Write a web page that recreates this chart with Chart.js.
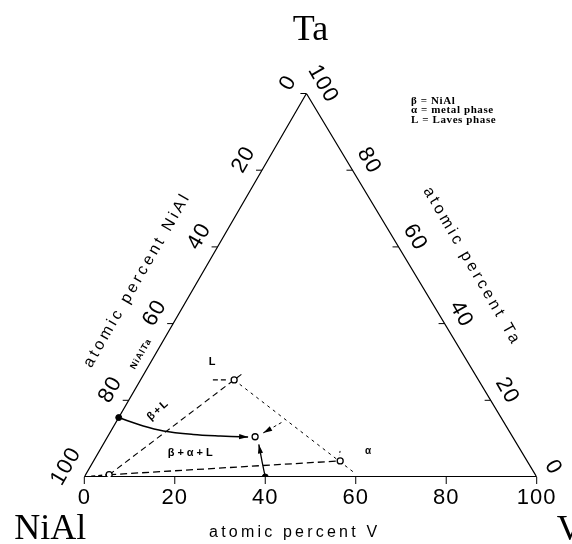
<!DOCTYPE html>
<html>
<head>
<meta charset="utf-8">
<script src="https://cdn.jsdelivr.net/npm/chart.js@4.4.1/dist/chart.umd.min.js"></script>
<style>
  html, body { margin: 0; padding: 0; background: #fff; }
  #wrap { width: 572px; height: 544px; }
</style>
</head>
<body>
<div id="wrap"><canvas id="ternary" width="572" height="544"></canvas></div>
<script>
// compositions are [at.% V, at.% Ta], NiAl is the remainder
var cornerNames = ['NiAl', 'V', 'Ta'];
var tickValues = [0, 20, 40, 60, 80, 100];
var phaseKey = ['\u03b2 = NiAl', '\u03b1 = metal phase', 'L = Laves phase'];
var fieldNames = ['\u03b2+L', '\u03b2+\u03b1+L', 'L', '\u03b1', 'NiAlTa'];
var axisTitles = ['atomic percent NiAl', 'atomic percent V', 'atomic percent Ta'];

var openPoints = [[5.2, 0.6], [20.7, 25.3], [54.5, 4.2], [32.6, 10.5]];
var solidPoints = [[0, 15.5], [40, 0]];

var betaLavesTie = [[5.2, 0.6], [21.6, 26.8]];
var betaAlphaTie = [[5.2, 0.6], [54.5, 4.2]];
var lavesAlphaTie = [[20.7, 25.3], [59, 1.2]];
var cornerTie = [[0, 0], [5.2, 0.6]];
var lavesMark = [[16.0, 25.3], [19.3, 25.3]];
var alphaMark = [[53.2, 6.8], [53.6, 5.7]];

var pathBL = [[0, 15.5], [6.5, 13.3], [11.6, 12.0], [18.6, 11.1], [24.8, 10.7], [29.3, 10.5], [31.1, 10.4]];
var pathBA = [[40, 0], [37.4, 3.9], [34.4, 8.5]];
var pathAL = [[36.6, 14.2], [33.9, 11.5]];

var SKEW = 0.491, H = Math.sqrt(3) / 2;
function toXY(p) { return { x: p[0] + p[1] * SKEW, y: p[1] * H }; }
function pts(list) { return list.map(toXY); }

function line(data, w, dash, extra) {
  var ds = {
    data: pts(data), showLine: true, borderColor: '#000', borderWidth: w,
    borderDash: dash || [], pointRadius: 0, fill: false
  };
  for (var k in extra) ds[k] = extra[k];
  return ds;
}

var datasets = [
  { data: pts(openPoints), showLine: false, pointRadius: 3, pointBorderWidth: 1.3,
    pointBackgroundColor: '#fff', pointBorderColor: '#000' },
  { data: pts(solidPoints), showLine: false, pointRadius: 3, pointBorderWidth: 1,
    pointBackgroundColor: '#000', pointBorderColor: '#000' },
  line(pathBL, 1.5, [], { cubicInterpolationMode: 'monotone', arrow: true }),
  line(pathBA, 1.3, [], { tension: 0.3, arrow: true }),
  line(pathAL, 1, [3, 3], { arrow: true }),
  line(betaLavesTie, 1.1, [6, 4]),
  line(betaAlphaTie, 1.3, [7, 4]),
  line(lavesAlphaTie, 1, [3, 4]),
  line(cornerTie, 1.5, [4, 3]),
  line(lavesMark, 1.2, [5, 3]),
  line(alphaMark, 1, [2, 2]),
  line([[0, 0], [100, 0]], 2.2),
  line([[0, 0], [0, 100], [100, 0]], 1.2)
];

var ternaryPlugin = {
  id: 'ternaryPlugin',
  afterDatasetsDraw: function (chart) {
    var ctx = chart.ctx, sx = chart.scales.x, sy = chart.scales.y;
    function px(p) { var q = toXY(p); return { x: sx.getPixelForValue(q.x), y: sy.getPixelForValue(q.y) }; }
    function text(str, x, y, font, rot, spacing, align) {
      ctx.save();
      ctx.translate(x, y);
      ctx.rotate(rot || 0);
      ctx.font = font;
      ctx.letterSpacing = (spacing || 0) + 'px';
      ctx.textAlign = align || 'center';
      ctx.textBaseline = 'middle';
      ctx.fillStyle = '#000';
      ctx.fillText(str, 0, 0);
      ctx.restore();
    }

    // arrowheads at the end of arrow datasets
    chart.data.datasets.forEach(function (ds, i) {
      if (!ds.arrow) return;
      var el = chart.getDatasetMeta(i).data;
      var a = el[el.length - 2], b = el[el.length - 1];
      var ang = Math.atan2(b.y - a.y, b.x - a.x);
      ctx.save();
      ctx.translate(b.x, b.y);
      ctx.rotate(ang);
      ctx.beginPath();
      ctx.moveTo(0, 0);
      ctx.lineTo(-9, -2.6);
      ctx.lineTo(-9, 2.6);
      ctx.closePath();
      ctx.fillStyle = '#000';
      ctx.fill();
      ctx.restore();
    });

    // ticks and tick labels
    ctx.save();
    ctx.strokeStyle = '#000';
    ctx.lineWidth = 1;
    var tickFont = '22px "Liberation Sans", Arial, sans-serif';
    var nl = { x: -0.866, y: -0.5 }, nr = { x: 0.866, y: -0.5 };
    tickValues.forEach(function (v) {
      var b = px([v, 0]);
      ctx.beginPath(); ctx.moveTo(b.x, b.y); ctx.lineTo(b.x, b.y + 7); ctx.stroke();
      text(String(v), b.x, b.y + 21, tickFont, 0, 1);

      var l = px([0, v]);
      if (v > 0) { ctx.beginPath(); ctx.moveTo(l.x, l.y); ctx.lineTo(l.x - 6, l.y); ctx.stroke(); }
      text(String(100 - v), l.x + nl.x * 21, l.y + nl.y * 21, tickFont, -Math.PI / 3, 1);

      var r = px([100 - v, v]);
      if (v > 0 && v < 100) { ctx.beginPath(); ctx.moveTo(r.x, r.y); ctx.lineTo(r.x - 6, r.y); ctx.stroke(); }
      text(String(v), r.x + nr.x * 19, r.y + nr.y * 19, tickFont, Math.PI / 3, 1);
    });
    ctx.restore();

    // axis titles
    var titleFont = '16px "Liberation Sans", Arial, sans-serif';
    var lt = px([0, 44.5]);
    text(axisTitles[0], lt.x + nl.x * 53, lt.y + nl.y * 53, titleFont, -Math.PI / 3, 3.2);
    var bt = px([46.5, 0]);
    text(axisTitles[1], bt.x, bt.y + 56, titleFont, 0, 3.2);
    var rt = px([52, 48]);
    text(axisTitles[2], rt.x + nr.x * 53, rt.y + nr.y * 53, titleFont, Math.PI / 3, 3.2);

    // corner names
    var cFont = '36px "Liberation Serif", "Times New Roman", serif';
    var c0 = px([0, 0]), c1 = px([100, 0]), c2 = px([0, 100]);
    text(cornerNames[0], c0.x - 34, c0.y + 53, cFont);
    text(cornerNames[1], c1.x + 20, c1.y + 54, cFont, 0, 0, 'left');
    text(cornerNames[2], c2.x + 4, c2.y - 63, cFont);

    // phase fields
    var fFont = 'bold 11px "Liberation Sans", Arial, sans-serif';
    var f = px([7.8, 17.5]); text(fieldNames[0], f.x, f.y, fFont, -0.73, 2);
    f = px([20.7, 6.2]); text(fieldNames[1], f.x, f.y, fFont, 0, 3);
    f = px([13.5, 30]); text(fieldNames[2], f.x, f.y, fFont);
    f = px([59.5, 6.6]); text(fieldNames[3], f.x, f.y, 'bold 10px "Liberation Sans", Arial, sans-serif');
    f = px([-3.2, 32.1]); text(fieldNames[4], f.x, f.y, 'bold 9px "Liberation Sans", Arial, sans-serif', -Math.PI / 3, 1);

    // key
    var kFont = 'bold 11px "Liberation Serif", "Times New Roman", serif';
    phaseKey.forEach(function (s, i) { text(s, 411, 101 + i * 9.5, kFont, 0, 0.6, 'left'); });
  }
};

new Chart(document.getElementById('ternary').getContext('2d'), {
  type: 'scatter',
  data: { datasets: datasets },
  options: {
    responsive: false,
    animation: false,
    events: [],
    layout: { padding: { left: 84.3, right: 35.3, top: 93.5, bottom: 67 } },
    plugins: { legend: { display: false }, tooltip: { enabled: false } },
    scales: {
      x: { type: 'linear', min: 0, max: 100, display: false },
      y: { type: 'linear', min: 0, max: 100 * H, display: false }
    }
  },
  plugins: [ternaryPlugin]
});
</script>
</body>
</html>
